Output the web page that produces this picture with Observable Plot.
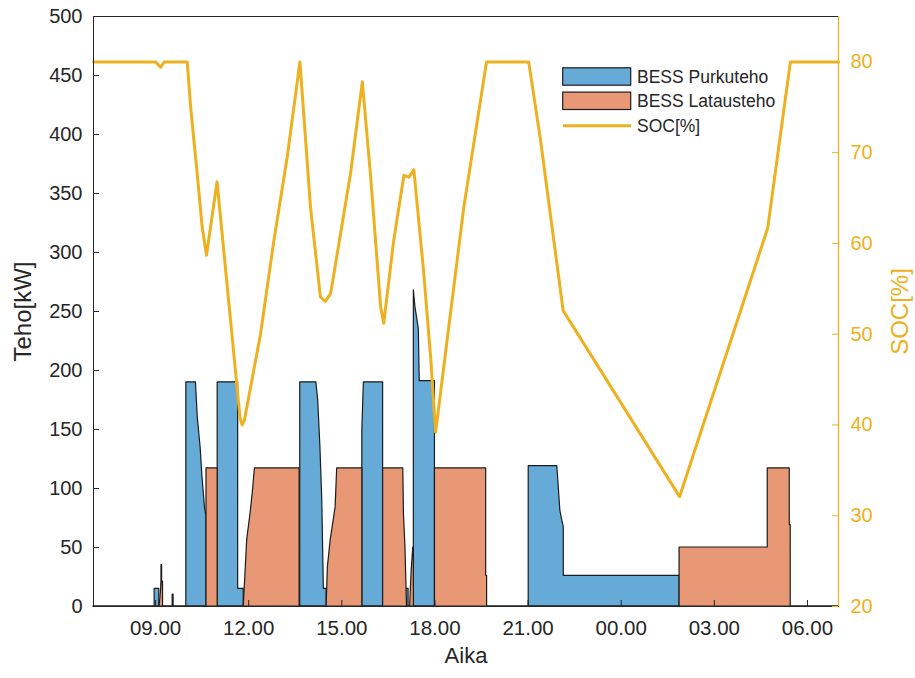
<!DOCTYPE html>
<html>
<head>
<meta charset="utf-8">
<script src="https://cdn.jsdelivr.net/npm/d3@7"></script>
<script src="https://cdn.jsdelivr.net/npm/@observablehq/plot@0.6"></script>
<style>
  body { margin: 0; background: #fff; }
  #wrap { position: relative; width: 915px; height: 678px; font-family: "Liberation Sans", Arial, sans-serif; }
  #legend { position: absolute; left: 0; top: 0; pointer-events: none; }
</style>
</head>
<body>
<div id="wrap"></div>
<script>
// ---- data (hours since midnight of day 1; 24+ = next day) ----
const purkuT  = [7, 8.97, 8.97, 9.12, 9.12, 9.19, 9.19, 9.21, 9.21, 9.55, 9.55, 9.58, 9.58, 9.99, 9.99, 10.3, 10.36, 10.45, 10.51, 10.59, 10.64, 10.64, 11.0, 11.0, 11.66, 11.66, 11.84, 11.84, 13.66, 13.66, 14.18, 14.24, 14.31, 14.37, 14.42, 14.51, 14.51, 15.66, 15.66, 15.71, 16.33, 16.33, 17.02, 17.02, 17.15, 17.15, 17.32, 17.32, 17.37, 17.48, 17.51, 18.0, 18.0, 21.02, 21.02, 21.94, 21.97, 22.04, 22.1, 22.15, 22.15, 25.88, 25.88, 31];
const purkuKW = [0, 0, 15, 15, 0, 0, 35, 35, 0, 0, 10, 10, 0, 0, 190, 190, 160, 135, 110, 84, 76, 0, 0, 190, 190, 15, 15, 0, 0, 190, 190, 174, 135, 90, 15, 15, 0, 0, 149, 190, 190, 0, 0, 15, 15, 0, 0, 268, 254, 235, 191, 191, 0, 0, 119, 119, 108, 81, 73, 67, 26, 26, 0, 0];

const latausT  = [7, 9.13, 9.2, 9.24, 9.24, 10.64, 10.64, 11.0, 11.0, 11.84, 11.9, 11.95, 12.06, 12.13, 12.2, 13.64, 13.64, 14.51, 14.55, 14.64, 14.8, 14.85, 15.66, 15.66, 16.33, 16.33, 16.98, 17.0, 17.05, 17.1, 17.2, 17.25, 17.3, 17.32, 17.32, 18.0, 18.0, 19.65, 19.65, 19.68, 19.68, 25.88, 25.88, 28.72, 28.72, 29.43, 29.43, 29.46, 29.46, 31];
const latausKW = [0, 0, 21, 21, 0, 0, 117, 117, 0, 0, 30, 56, 79, 96, 117, 117, 0, 0, 33, 56, 84, 117, 117, 0, 0, 117, 117, 79, 50, 0, 0, 30, 50, 50, 0, 0, 117, 117, 26, 26, 0, 0, 50, 50, 117, 117, 69, 69, 0, 0];

const socT = [7, 9.0, 9.16, 9.28, 10.02, 10.13, 10.34, 10.5, 10.64, 10.98, 11.72, 11.79, 11.86, 12.38, 12.81, 13.24, 13.65, 13.99, 14.31, 14.47, 14.64, 15.28, 15.66, 15.92, 16.25, 16.35, 16.67, 17.0, 17.16, 17.32, 17.64, 17.86, 18.02, 18.39, 18.93, 19.47, 19.66, 21.02, 21.4, 21.83, 22.13, 25.88, 28.72, 29.45, 31];
const socV = [80, 80, 79.4, 80, 80, 75.0, 67.7, 61.8, 58.7, 66.8, 40.8, 40.0, 40.5, 50.0, 60.3, 69.5, 80, 64.0, 54.1, 53.6, 54.5, 67.7, 77.8, 67.7, 53.0, 51.2, 60.3, 67.5, 67.3, 68.1, 56.7, 47.5, 39.2, 49.3, 64.0, 75.8, 80, 80, 71.4, 60.3, 52.6, 32.1, 61.7, 80, 80];

const xTicks = [9, 12, 15, 18, 21, 24, 27, 30];
const xTickLabels = ["09.00", "12.00", "15.00", "18.00", "21.00", "00.00", "03.00", "06.00"];
const yTicks = [0, 50, 100, 150, 200, 250, 300, 350, 400, 450, 500];
const socTicks = [20, 30, 40, 50, 60, 70, 80];
const seriesNames = ["BESS Purkuteho", "BESS Latausteho", "SOC[%]"];

// ---- styling ----
const BLUE = "#66AAD7", ORANGE = "#E89875", YELLOW = "#EDB120", INK = "#262626";
const W = 915, H = 678, mL = 93, mR = 77, mT = 16, mB = 72;
const plotW = W - mL - mR, plotH = H - mT - mB;
const kwMax = 500, socMin = 20, socMax = 85;
const toKW = s => (s - socMin) * kwMax / (socMax - socMin);

const purku = purkuT.map((t, i) => ({t, v: purkuKW[i]}));
const lataus = latausT.map((t, i) => ({t, v: latausKW[i]}));
const soc = socT.map((t, i) => ({t, v: socV[i]}));
const socKW = socTicks.map(toKW);

const chart = Plot.plot({
  width: W, height: H,
  marginLeft: mL, marginRight: mR, marginTop: mT, marginBottom: mB,
  style: {fontFamily: "'Liberation Sans', Arial, sans-serif", color: INK, background: "#fff", overflow: "visible"},
  x: {domain: [7, 31]},
  y: {domain: [0, kwMax]},
  marks: [
    Plot.area(purku, {x1: "t", y1: 0, y2: "v", fill: BLUE, stroke: "#1c1c1c", strokeWidth: 1.2, curve: "linear"}),
    Plot.area(lataus, {x1: "t", y1: 0, y2: "v", fill: ORANGE, stroke: "#1c1c1c", strokeWidth: 1.2, curve: "linear"}),
    Plot.line(soc, {x: "t", y: d => toKW(d.v), stroke: YELLOW, strokeWidth: 3, curve: "linear"}),
    Plot.frame({stroke: INK, strokeWidth: 1}),
    Plot.ruleX([31], {stroke: YELLOW, strokeWidth: 1.2}),
    Plot.tickY(yTicks, {y: d => d, insetRight: plotW - 6, stroke: INK}),
    Plot.tickY(socKW, {y: d => d, insetLeft: plotW - 6, stroke: YELLOW}),
    Plot.tickX(xTicks, {x: d => d, insetTop: plotH - 6, stroke: INK}),
    Plot.axisY({ticks: yTicks, anchor: "left", tickSize: 0, tickPadding: 11, fontSize: 20, label: null}),
    Plot.axisY({ticks: socKW, anchor: "right", tickSize: 0, tickPadding: 12, fontSize: 20, color: YELLOW, label: null,
      tickFormat: d => String(socTicks[socKW.indexOf(d)])}),
    Plot.axisX({ticks: xTicks, anchor: "bottom", tickSize: 0, tickPadding: 14, fontSize: 20.5, label: null,
      tickFormat: d => xTickLabels[xTicks.indexOf(d)]}),
    Plot.text(["Teho[kW]"], {text: d => d, frameAnchor: "left", textAnchor: "middle", dx: -70, rotate: -90, fontSize: 24, fill: INK}),
    Plot.text(["SOC[%]"], {text: d => d, frameAnchor: "right", textAnchor: "middle", dx: 62, rotate: -90, fontSize: 24, fill: YELLOW}),
    Plot.text(["Aika"], {text: d => d, frameAnchor: "bottom", dy: 56, fontSize: 22, fill: INK})
  ]
});
const wrap = document.getElementById("wrap");
wrap.appendChild(chart);

// ---- legend overlay ----
const ns = "http://www.w3.org/2000/svg";
const lg = document.createElementNS(ns, "svg");
lg.setAttribute("id", "legend");
lg.setAttribute("width", W);
lg.setAttribute("height", H);
const fills = [BLUE, ORANGE, null];
const rowY = [76.5, 100.8, 125.7];
seriesNames.forEach((name, i) => {
  if (fills[i]) {
    const r = document.createElementNS(ns, "rect");
    r.setAttribute("x", 562.7); r.setAttribute("y", rowY[i] - 8.7);
    r.setAttribute("width", 68); r.setAttribute("height", 17.4);
    r.setAttribute("fill", fills[i]); r.setAttribute("stroke", "#1c1c1c"); r.setAttribute("stroke-width", 1.2);
    lg.appendChild(r);
  } else {
    const l = document.createElementNS(ns, "line");
    l.setAttribute("x1", 563); l.setAttribute("x2", 631);
    l.setAttribute("y1", rowY[i]); l.setAttribute("y2", rowY[i]);
    l.setAttribute("stroke", YELLOW); l.setAttribute("stroke-width", 3);
    lg.appendChild(l);
  }
  const t = document.createElementNS(ns, "text");
  t.setAttribute("x", 637); t.setAttribute("y", rowY[i]);
  t.setAttribute("dy", "0.35em");
  t.setAttribute("font-size", 17.5);
  t.setAttribute("font-family", "'Liberation Sans', Arial, sans-serif");
  t.setAttribute("fill", INK);
  t.textContent = name;
  lg.appendChild(t);
});
wrap.appendChild(lg);
</script>
</body>
</html>
